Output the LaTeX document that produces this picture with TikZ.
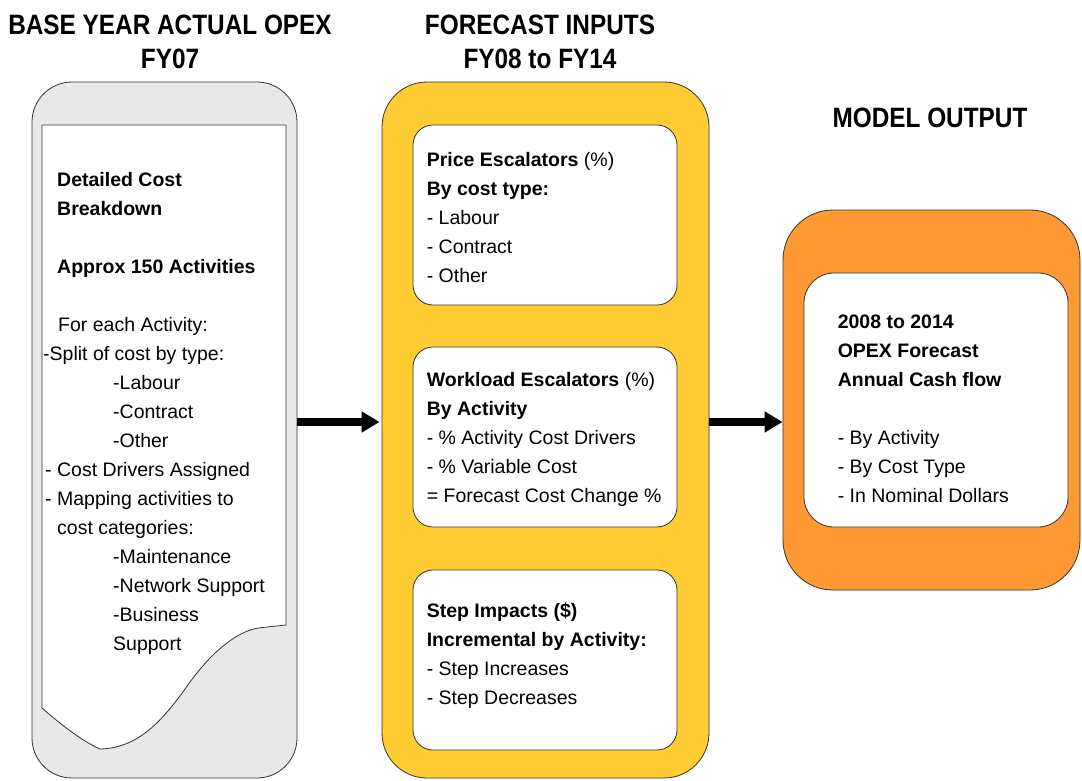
\documentclass[tikz,border=0pt]{standalone}
\usepackage{fontspec}
\setmainfont{Liberation Sans}
\newfontfamily\headfont{Liberation Sans}[FakeStretch=0.87]
\usetikzlibrary{arrows.meta,positioning}

\definecolor{basegray}{HTML}{E8E8E8}
\definecolor{inyellow}{HTML}{FFCC33}
\definecolor{outorange}{HTML}{FF9933}

\tikzset{
  panel/.style={draw=black!80,line width=0.8pt,inner sep=0pt},
  card/.style={draw=black!80,line width=0.8pt,fill=white,rounded corners=20pt,
    inner sep=0pt,minimum width=264pt,minimum height=180pt},
  txt/.style={anchor=north west,align=left,inner sep=0pt,
    font=\fontsize{19.5}{29}\selectfont},
  head/.style={align=center,inner sep=0pt,font=\headfont\bfseries\fontsize{28}{34}\selectfont},
  flow/.style={line width=8pt,-{Triangle[length=18pt,width=20pt]}}
}

\begin{document}
\begin{tikzpicture}[x=1pt,y=-1pt]
\useasboundingbox (0,0) rectangle (1082,780);

% column headings
\node [head] (basehead) at (170,42) {BASE YEAR ACTUAL OPEX\\FY07};
\node [head] (fcsthead) at (540,42) {FORECAST INPUTS\\FY08 to FY14};
\node [head] (outhead) at (930,118) {MODEL OUTPUT};

% the three panels
\node [panel,fill=basegray,rounded corners=40pt,minimum width=265pt,minimum height=696pt] (base) at (164.5,430) {};
\node [panel,fill=inyellow,rounded corners=45pt,minimum width=327pt,minimum height=696pt] (fcst) at (545.5,430) {};
\node [panel,fill=outorange,rounded corners=50pt,minimum width=297pt,minimum height=380pt] (out) at (931.5,400) {};

% torn sheet in the base year panel
\draw [fill=white,draw=black!80,line width=0.8pt]
  (42,125) -- (286,125) -- (286,625) -- (258,628)
  .. controls (236,632) and (212,652) .. (190,682)
  .. controls (162,722) and (138,748) .. (100,749)
  .. controls (80,740) and (58,722) .. (42,708) -- cycle;
\node [txt] (basetxt) at (43,172) {%
  \hspace*{14pt}\textbf{Detailed Cost}\\
  \hspace*{14pt}\textbf{Breakdown}\\[29pt]
  \hspace*{14pt}\textbf{Approx 150 Activities}\\[29pt]
  \hspace*{15pt}For each Activity:\\
  -Split of cost by type:\\
  \hspace*{70pt}-Labour\\
  \hspace*{70pt}-Contract\\
  \hspace*{70pt}-Other\\
  \hspace*{2pt}- Cost Drivers Assigned\\
  \hspace*{2pt}- Mapping activities to\\
  \hspace*{14pt}cost categories:\\
  \hspace*{70pt}-Maintenance\\
  \hspace*{70pt}-Network Support\\
  \hspace*{70pt}-Business\\
  \hspace*{70pt}Support};

% forecast input cards
\node [card] (price) at (545,215) {};
\node [card] (workload) at (545,437) {};
\node [card] (stepimp) at (545,660) {};
\node [txt] (pricetxt) at ([xshift=14pt,yshift=-28pt]price.north west) {%
  \textbf{Price Escalators} (\%)\\
  \textbf{By cost type:}\\
  - Labour\\
  - Contract\\
  - Other};
\node [txt] (workloadtxt) at ([xshift=14pt,yshift=-26pt]workload.north west) {%
  \textbf{Workload Escalators} (\%)\\
  \textbf{By Activity}\\
  - \% Activity Cost Drivers\\
  - \% Variable Cost\\
  = Forecast Cost Change \%};
\node [txt] (stepimptxt) at ([xshift=14pt,yshift=-33pt]stepimp.north west) {%
  \textbf{Step Impacts (\$)}\\
  \textbf{Incremental by Activity:}\\
  - Step Increases\\
  - Step Decreases};

% model output card
\node [card,rounded corners=30pt,minimum height=254pt] (result) at (936,400) {};
\node [txt] (resulttxt) at ([xshift=34pt,yshift=-42pt]result.north west) {%
  \textbf{2008 to 2014}\\
  \textbf{OPEX Forecast}\\
  \textbf{Annual Cash flow}\\[29pt]
  - By Activity\\
  - By Cost Type\\
  - In Nominal Dollars};

\draw [flow] ([yshift=8pt]base.east) -- ([yshift=8pt,xshift=-2pt]fcst.west);
\draw [flow] ([yshift=8pt]fcst.east) -- ([yshift=8pt]fcst.east -| out.west);
\end{tikzpicture}
\end{document}
